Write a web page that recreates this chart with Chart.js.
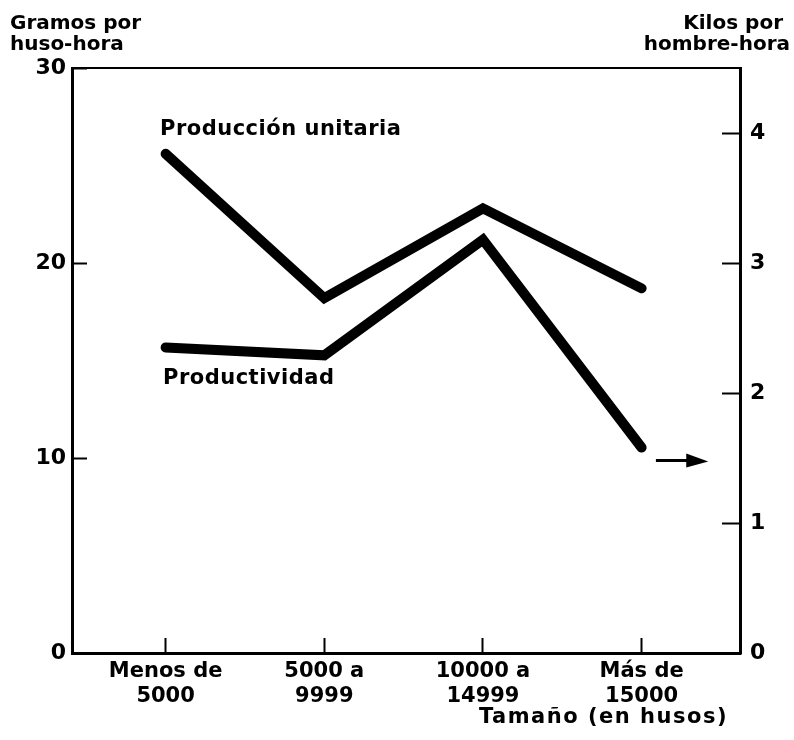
<!DOCTYPE html>
<html>
<head>
<meta charset="utf-8">
<script src="https://cdn.jsdelivr.net/npm/chart.js@4.4.0/dist/chart.umd.min.js"></script>
<style>
  html, body { margin: 0; padding: 0; background: #fff; }
</style>
</head>
<body>
<canvas id="chart" width="794" height="740"></canvas>
<script>
// categories (tamaño en husos)
const sizeLabels = [['Menos de', '5000'], ['5000 a', '9999'], ['10000 a', '14999'], ['Más de', '15000']];
// gramos por huso-hora (left axis)
const unitaria = [25.6, 18.2, 22.8, 18.7];
// kilos por hombre-hora (right axis)
const productividad = [2.35, 2.29, 3.18, 1.58];
const leftTicks = [0, 10, 20, 30];
const rightTicks = [0, 1, 2, 3, 4];

const FONT = '"DejaVu Sans", sans-serif';

const textPlugin = {
  id: 'texts',
  afterDraw(chart) {
    const { ctx, scales: { x, y1 } } = chart;
    ctx.save();
    ctx.fillStyle = '#000';
    ctx.textBaseline = 'middle';
    ctx.font = 'bold 20px ' + FONT;
    ctx.textAlign = 'left';
    ctx.fillText('Gramos por', 10, 24);
    ctx.fillText('huso-hora', 10, 45);
    ctx.textAlign = 'right';
    ctx.fillText('Kilos por', 783, 24);
    ctx.fillText('hombre-hora', 790, 45);
    ctx.font = 'bold 21px ' + FONT;
    ctx.letterSpacing = '1.5px';
    ctx.fillText('Tamaño (en husos)', 728, 718);
    ctx.textAlign = 'left';
    ctx.letterSpacing = '0.5px';
    ctx.fillText('Producción unitaria', 160, 130);
    ctx.fillText('Productividad', 163, 379);
    ctx.letterSpacing = '0px';

    // arrow pointing to the right-hand scale
    const ay = y1.getPixelForValue(1.48);
    const ax0 = x.getPixelForValue(3.09);
    const ax1 = x.getPixelForValue(3.42);
    ctx.strokeStyle = '#000';
    ctx.lineWidth = 3;
    ctx.beginPath();
    ctx.moveTo(ax0, ay);
    ctx.lineTo(ax1 - 16, ay);
    ctx.stroke();
    ctx.beginPath();
    ctx.moveTo(ax1 - 22, ay - 7);
    ctx.lineTo(ax1, ay + 1);
    ctx.lineTo(ax1 - 22, ay + 7);
    ctx.closePath();
    ctx.fill();
    ctx.restore();
  }
};

const axisStyle = (tickLen) => ({
  grid: { drawOnChartArea: false, color: '#000', tickLength: tickLen, tickWidth: 2 },
  border: { color: '#000', width: 3 }
});

new Chart(document.getElementById('chart').getContext('2d'), {
  type: 'line',
  data: {
    datasets: [{
      label: 'Producción unitaria',
      data: unitaria.map((v, i) => ({ x: i, y: v })),
      xAxisID: 'x',
      yAxisID: 'y',
      borderColor: '#000',
      borderWidth: 10,
      borderCapStyle: 'round',
      borderJoinStyle: 'miter',
      pointRadius: 0,
      tension: 0,
      fill: false
    }, {
      label: 'Productividad',
      data: productividad.map((v, i) => ({ x: i, y: v })),
      xAxisID: 'x',
      yAxisID: 'y1',
      borderColor: '#000',
      borderWidth: 10,
      borderCapStyle: 'round',
      borderJoinStyle: 'miter',
      pointRadius: 0,
      tension: 0,
      fill: false
    }]
  },
  options: {
    responsive: false,
    animation: false,
    layout: { padding: 0 },
    plugins: { legend: { display: false }, tooltip: { enabled: false } },
    scales: {
      x: {
        type: 'linear',
        position: 'bottom',
        min: -0.59,
        max: 3.62,
        afterBuildTicks: (s) => { s.ticks = sizeLabels.map((_, i) => ({ value: i })); },
        afterFit: (s) => { s.height = 87; },
        ticks: {
          color: '#000',
          padding: 21,
          font: { family: FONT, size: 21, weight: 'bold', lineHeight: 1.2 },
          maxRotation: 0,
          autoSkip: false,
          callback: (v) => sizeLabels[v]
        },
        ...axisStyle(-15)
      },
      xTop: {
        type: 'linear',
        position: 'top',
        afterFit: (s) => { s.height = 68; },
        ticks: { display: false },
        grid: { display: false },
        border: { color: '#000', width: 2 }
      },
      y: {
        position: 'left',
        min: 0,
        max: 30,
        afterBuildTicks: (s) => { s.ticks = leftTicks.map(v => ({ value: v })); },
        afterFit: (s) => { s.width = 72; },
        ticks: {
          color: '#000',
          padding: 21,
          font: { family: FONT, size: 22, weight: 'bold' }
        },
        ...axisStyle(-15)
      },
      y1: {
        position: 'right',
        min: 0,
        max: 4.5,
        afterBuildTicks: (s) => { s.ticks = rightTicks.map(v => ({ value: v })); },
        afterFit: (s) => { s.width = 54; },
        ticks: {
          color: '#000',
          padding: 28,
          font: { family: FONT, size: 22, weight: 'bold' }
        },
        ...axisStyle(-18)
      }
    }
  },
  plugins: [textPlugin]
});
</script>
</body>
</html>
